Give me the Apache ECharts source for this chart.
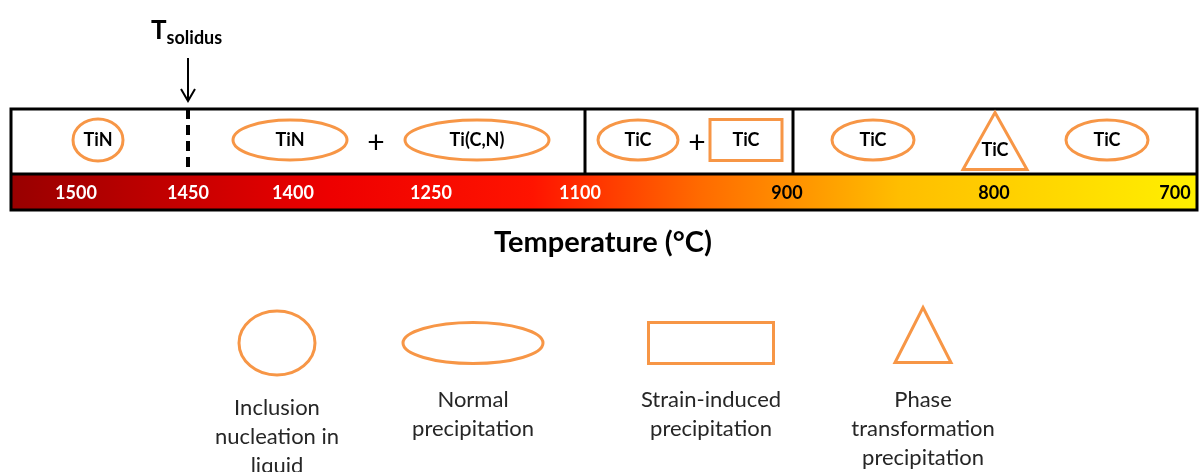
<!DOCTYPE html>
<html>
<head>
<meta charset="utf-8">
<script src="https://cdn.jsdelivr.net/npm/echarts@6/dist/echarts.min.js"></script>
<style>
  html, body { margin: 0; padding: 0; background: #fff; }
  #main { width: 1200px; height: 472px; }
</style>
</head>
<body>
<div id="main"></div>
<script>
// temperature marks painted on the bar (position along the diagram)
var tempLabels = ['1500', '1450', '1400', '1250', '1100', '900', '800', '700'];
var tempPos = [76, 188, 293, 431, 580, 787, 994, 1175];

// stage boundaries and solidus
var stageBreaks = [585, 793];
var solidusPos = 188;

// precipitates drawn in the upper band
var phaseKind = ['circle', 'ellipse', 'ellipse', 'ellipse', 'rect', 'ellipse', 'triangle', 'ellipse'];
var phaseLabel = ['TiN', 'TiN', 'Ti(C,N)', 'TiC', 'TiC', 'TiC', 'TiC', 'TiC'];
var phasePos = [98, 290, 477, 638, 746, 873, 995, 1107];
var phaseSpan = [50, 114, 144, 80, 72, 82, 64, 82];
var plusPos = [376, 697];

// key below the bar
var legendKind = ['circle', 'ellipse', 'rect', 'triangle'];
var legendLabel = [
  'Inclusion\nnucleation in\nliquid',
  'Normal\nprecipitation',
  'Strain-induced\nprecipitation',
  'Phase\ntransformation\nprecipitation'
];
var legendPos = [277, 473, 711, 923];
var legendSpan = [76, 140, 125, 56];

var ORANGE = '#F79646';
var FONT = 'Lato, "Open Sans", sans-serif';
var BOX_LEFT = 11, BOX_RIGHT = 1197;
var BOX_TOP = 109, BAR_TOP = 174, BAR_BOTTOM = 210;
var ROW_Y = 140, KEY_Y = 343;
var heights = { circle: 42, ellipse: 40, rect: 41, triangle: 57 };
var keyHeights = { circle: 64, ellipse: 41, rect: 41, triangle: 55 };

function shapeEl(kind, cx, cy, w, h) {
  var style = { fill: 'none', stroke: ORANGE, lineWidth: 3 };
  if (kind === 'rect') {
    return { type: 'rect', shape: { x: cx - w / 2, y: cy - h / 2, width: w, height: h }, style: style };
  }
  if (kind === 'triangle') {
    return {
      type: 'polygon',
      shape: { points: [[cx, cy - h / 2], [cx + w / 2, cy + h / 2], [cx - w / 2, cy + h / 2]] },
      style: style
    };
  }
  return { type: 'ellipse', shape: { cx: cx, cy: cy, rx: w / 2, ry: h / 2 }, style: style };
}

var chart = echarts.init(document.getElementById('main'));

var option = {
  animation: false,
  backgroundColor: '#fff',
  title: {
    text: 'Temperature (°C)',
    left: 489,
    top: 223,
    textStyle: { fontFamily: FONT, fontWeight: 'bold', fontSize: 29, color: '#000' }
  },
  grid: { left: 0, right: 0, top: 0, bottom: 0 },
  xAxis: { type: 'value', min: 0, max: 1200, show: false },
  yAxis: { type: 'value', min: 0, max: 472, inverse: true, show: false },
  series: [
    {
      // gradient temperature bar + frame
      type: 'custom',
      data: [[BOX_LEFT, BOX_TOP]],
      z: 1,
      renderItem: function (params, api) {
        var tl = api.coord([BOX_LEFT, BOX_TOP]);
        var br = api.coord([BOX_RIGHT, BAR_BOTTOM]);
        var mid = api.coord([BOX_LEFT, BAR_TOP]);
        var children = [
          {
            type: 'rect',
            shape: { x: tl[0], y: mid[1], width: br[0] - tl[0], height: br[1] - mid[1] },
            style: {
              fill: new echarts.graphic.LinearGradient(0, 0, 1, 0, [
                { offset: 0, color: '#980000' },
                { offset: 0.27, color: '#EE0000' },
                { offset: 0.44, color: '#FF1400' },
                { offset: 0.58, color: '#FF6A00' },
                { offset: 0.75, color: '#FFBE00' },
                { offset: 1, color: '#FFF000' }
              ])
            }
          },
          {
            type: 'rect',
            shape: { x: tl[0], y: tl[1], width: br[0] - tl[0], height: br[1] - tl[1] },
            style: { fill: 'none', stroke: '#000', lineWidth: 3 }
          },
          {
            type: 'line',
            shape: { x1: tl[0], y1: mid[1], x2: br[0], y2: mid[1] },
            style: { stroke: '#000', lineWidth: 3 }
          }
        ];
        stageBreaks.forEach(function (b) {
          var p = api.coord([b, BOX_TOP]);
          children.push({
            type: 'line',
            shape: { x1: p[0], y1: tl[1], x2: p[0], y2: mid[1] },
            style: { stroke: '#000', lineWidth: 3 }
          });
        });
        return { type: 'group', children: children };
      }
    },
    {
      // temperature values on the bar
      type: 'custom',
      z: 3,
      data: tempPos.map(function (p, i) { return [p, i]; }),
      renderItem: function (params, api) {
        var i = api.value(1);
        var c = api.coord([api.value(0), (BAR_TOP + BAR_BOTTOM) / 2]);
        var t = +tempLabels[i];
        return {
          type: 'text',
          style: {
            text: tempLabels[i],
            x: c[0], y: c[1] + 1,
            align: 'center', verticalAlign: 'middle',
            fontFamily: FONT, fontWeight: 'bold', fontSize: 18,
            fill: t > 900 ? '#fff' : '#000'
          }
        };
      }
    },
    {
      // precipitates in the upper band
      type: 'custom',
      z: 3,
      data: phasePos.map(function (p, i) { return [p, i]; }),
      renderItem: function (params, api) {
        var i = api.value(1);
        var kind = phaseKind[i];
        var c = api.coord([api.value(0), ROW_Y]);
        var s = api.size([phaseSpan[i], heights[kind]]);
        var ty = kind === 'triangle' ? c[1] + 10 : c[1];
        return {
          type: 'group',
          children: [
            shapeEl(kind, c[0], c[1] + (kind === 'triangle' ? 1 : 0), s[0], s[1]),
            {
              type: 'text',
              style: {
                text: phaseLabel[i], x: c[0], y: ty,
                align: 'center', verticalAlign: 'middle',
                fontFamily: FONT, fontSize: 18, fontWeight: 'bold', fill: '#000'
              }
            }
          ]
        };
      }
    },
    {
      // "+" between coexisting precipitates
      type: 'custom',
      z: 3,
      data: plusPos.map(function (p) { return [p]; }),
      renderItem: function (params, api) {
        var c = api.coord([api.value(0), ROW_Y + 3]);
        return {
          type: 'text',
          style: {
            text: '+', x: c[0], y: c[1],
            align: 'center', verticalAlign: 'middle',
            fontFamily: FONT, fontSize: 30, fill: '#000'
          }
        };
      }
    },
    {
      // solidus marker
      type: 'custom',
      z: 4,
      data: [[solidusPos]],
      renderItem: function (params, api) {
        var top = api.coord([api.value(0), BOX_TOP]);
        var bot = api.coord([api.value(0), BAR_TOP]);
        var a0 = api.coord([api.value(0), 58]);
        var a1 = api.coord([api.value(0), 101]);
        var x = top[0];
        return {
          type: 'group',
          children: [
            {
              type: 'line',
              shape: { x1: x, y1: top[1], x2: x, y2: bot[1] },
              style: { stroke: '#000', lineWidth: 4, lineDash: [10, 6] }
            },
            {
              type: 'line',
              shape: { x1: x, y1: a0[1], x2: x, y2: a1[1] },
              style: { stroke: '#000', lineWidth: 2 }
            },
            {
              type: 'polyline',
              shape: { points: [[x - 7, a1[1] - 12], [x, a1[1]], [x + 7, a1[1] - 12]] },
              style: { stroke: '#000', lineWidth: 2, fill: 'none' }
            },
            {
              type: 'text',
              style: {
                text: '{t|T}{s|solidus}',
                x: x - 37, y: 44,
                align: 'left', verticalAlign: 'bottom',
                rich: {
                  t: { fontFamily: FONT, fontWeight: 'bold', fontSize: 26, fill: '#000', verticalAlign: 'bottom' },
                  s: { fontFamily: FONT, fontWeight: 'bold', fontSize: 18, fill: '#000', verticalAlign: 'bottom', padding: [0, 0, -3, 0] }
                }
              }
            }
          ]
        };
      }
    },
    {
      // key
      type: 'custom',
      z: 3,
      data: legendPos.map(function (p, i) { return [p, i]; }),
      renderItem: function (params, api) {
        var i = api.value(1);
        var kind = legendKind[i];
        var c = api.coord([api.value(0), KEY_Y]);
        var s = api.size([legendSpan[i], keyHeights[kind]]);
        var cy = kind === 'triangle' ? c[1] - 8 : c[1];
        var ty = i === 0 ? 393 : 385;
        return {
          type: 'group',
          children: [
            shapeEl(kind, c[0], cy, s[0], s[1]),
            {
              type: 'text',
              style: {
                text: legendLabel[i], x: c[0], y: ty,
                align: 'center', verticalAlign: 'top',
                fontFamily: FONT, fontSize: 22, lineHeight: 29, fill: '#262626'
              }
            }
          ]
        };
      }
    }
  ]
};

chart.setOption(option);
</script>
</body>
</html>
